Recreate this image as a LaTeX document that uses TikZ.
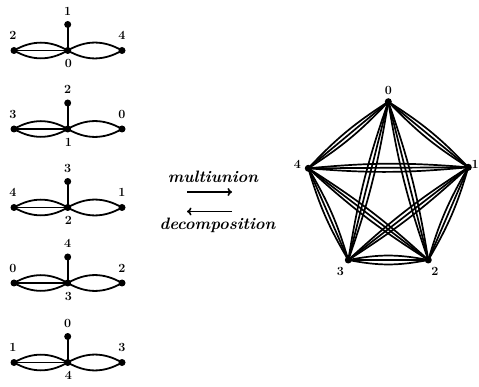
\documentclass[tikz,border=0pt]{standalone}
\usetikzlibrary{arrows.meta}
\begin{document}
\begin{tikzpicture}[x=1pt,y=-1pt,
  vtx/.style={circle,fill=black,inner sep=0pt,minimum size=7pt},
  lbl/.style={font=\bfseries\fontsize{12.5}{12.5}\selectfont,inner sep=0pt},
  sedge/.style={line width=1.8pt},
  pedge/.style={line width=1.7pt},
  arr/.style={line width=1.6pt,-{To[length=4.5pt,width=8pt]}},
  word/.style={font=\bfseries\itshape\fontsize{16.5}{16.5}\selectfont,inner sep=0pt}]
\useasboundingbox (0,0) rectangle (479,387);

% the five starters: centre i, top i+1, left i+2, right i+4
\foreach \i/\c in {0/50.5,1/129,2/207.5,3/283,4/362.5}{
  \pgfmathtruncatemacro{\t}{mod(\i+1,5)}
  \pgfmathtruncatemacro{\l}{mod(\i+2,5)}
  \pgfmathtruncatemacro{\r}{mod(\i+4,5)}
  \node[vtx] (c\i) at (67.7,\c) {};
  \node[vtx] (t\i) at (67.7,\c-26) {};
  \node[vtx] (l\i) at (14,\c) {};
  \node[vtx] (r\i) at (122,\c) {};
  \draw[sedge] (c\i.center) -- (t\i.center);
  \draw[sedge] (l\i.center) to[bend left=30] (c\i.center);
  \draw[sedge] (l\i.center) -- (c\i.center);
  \draw[sedge] (l\i.center) to[bend right=30] (c\i.center);
  \draw[sedge] (c\i.center) to[bend left=30] (r\i.center);
  \draw[sedge] (c\i.center) to[bend right=30] (r\i.center);
  \node[lbl] (tl\i) at (67.7,\c-39.5) {\t};
  \node[lbl] (ll\i) at (13,\c-15) {\l};
  \node[lbl] (rl\i) at (122,\c-15) {\r};
  \node[lbl] (cl\i) at (68.5,\c+13) {\i};
}

% arrows between the two sides
\node[word] (mu) at (213,176.5) {multiunion};
\coordinate (ra) at (187,192);
\coordinate (rb) at (232,192);
\draw[arr] (ra) -- (rb);
\coordinate (la) at (232,211.5);
\coordinate (lb) at (187,211.5);
\draw[arr] (la) -- (lb);
\node[word] (de) at (217.5,225) {decomposition};

% the complete graph with every edge tripled
\node[vtx] (p0) at (388.3,101.7) {};
\node[vtx] (p1) at (468.3,167.3) {};
\node[vtx] (p2) at (428.3,260) {};
\node[vtx] (p3) at (348.3,260) {};
\node[vtx] (p4) at (308.3,168.3) {};
\foreach \a/\b/\k in {0/1/7,1/2/7,2/3/11,3/4/7,4/0/7,0/2/5,0/3/5,1/3/5,1/4/5,2/4/5}{
  \draw[pedge] (p\a.center) to[bend left=\k] (p\b.center);
  \draw[pedge] (p\a.center) -- (p\b.center);
  \draw[pedge] (p\a.center) to[bend right=\k] (p\b.center);
}
\node[lbl] (q0) at (388.5,90) {0};
\node[lbl,anchor=west] (q1) at (471.5,164.5) {1};
\node[lbl] (q4) at (297.5,164.5) {4};
\node[lbl] (q3) at (340.5,271) {3};
\node[lbl] (q2) at (435,271) {2};
\end{tikzpicture}
\end{document}
